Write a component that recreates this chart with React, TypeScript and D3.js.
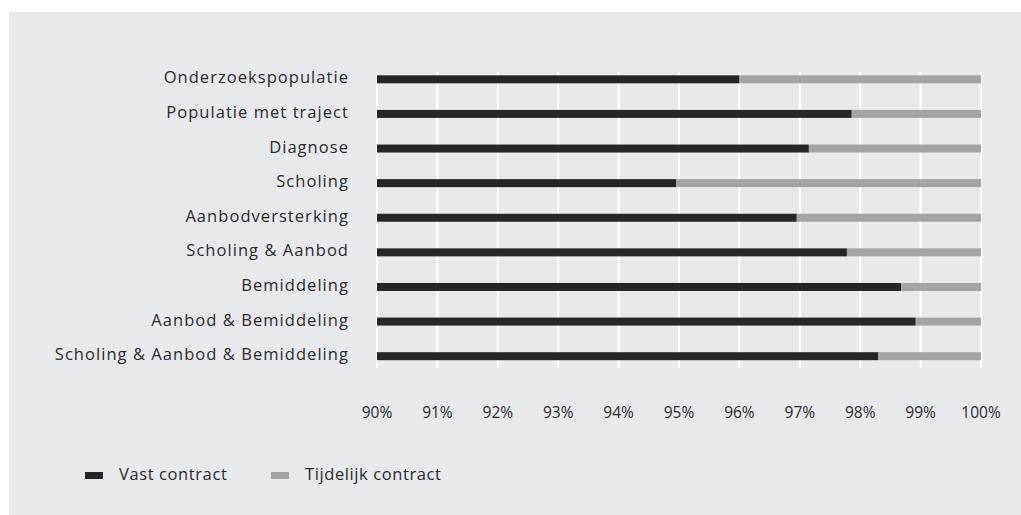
import React from "react";
import * as d3 from "d3";

const categories: string[] = [
  "Onderzoekspopulatie",
  "Populatie met traject",
  "Diagnose",
  "Scholing",
  "Aanbodversterking",
  "Scholing & Aanbod",
  "Bemiddeling",
  "Aanbod & Bemiddeling",
  "Scholing & Aanbod & Bemiddeling",
];
const vastContract: number[] = [0.96, 0.9786, 0.9715, 0.9495, 0.9695, 0.9778, 0.9868, 0.9892, 0.983];
const tijdelijkContract: number[] = vastContract.map((v) => 1 - v);
const tickValues: number[] = [0.9, 0.91, 0.92, 0.93, 0.94, 0.95, 0.96, 0.97, 0.98, 0.99, 1.0];
const seriesNames: string[] = ["Vast contract", "Tijdelijk contract"];
const seriesColors: string[] = ["#262628", "#a3a4a7"];

const W = 1021;
const H = 515;
const FONT = "'Open Sans', 'Noto Sans', sans-serif";

export default function App() {
  const x = d3.scaleLinear().domain([0.9, 1.0]).range([377, 981]);
  const y = d3.scaleBand<string>().domain(categories).range([62, 373.5]).paddingInner(0.77).paddingOuter(0.385);
  const bh = 8;
  const fmt = d3.format(".0%");

  return (
    <svg
      width={W}
      height={H}
      style={{ position: "fixed", left: 0, top: 0, display: "block" }}
      fontFamily={FONT}
    >
      <rect x={0} y={0} width={W} height={H} fill="#ffffff" />
      <rect x={9} y={12} width={W - 9} height={H - 12} fill="#e8e9eb" />
      {tickValues.map((t) => (
        <line key={"g" + t} x1={x(t)} x2={x(t)} y1={72} y2={368} stroke="#ffffff" strokeWidth={2} />
      ))}
      {categories.map((c, i) => {
        const cy = (y(c) as number) + y.bandwidth() / 2;
        return (
          <g key={c}>
            <rect x={x(0.9)} y={cy - bh / 2} width={x(vastContract[i]) - x(0.9)} height={bh} fill={seriesColors[0]} />
            <rect
              x={x(vastContract[i])}
              y={cy - bh / 2}
              width={x(vastContract[i] + tijdelijkContract[i]) - x(vastContract[i])}
              height={bh}
              fill={seriesColors[1]}
            />
            <text x={349} y={cy + 4} textAnchor="end" fontSize={16.5} fill="#2b2b2d" letterSpacing={1.05}>
              {c}
            </text>
          </g>
        );
      })}
      {tickValues.map((t) => (
        <text key={"t" + t} x={x(t)} y={418} textAnchor="middle" fontSize={15.5} fill="#2b2b2d">
          {fmt(t)}
        </text>
      ))}
      {seriesNames.map((s, i) => {
        const lx = [85, 271][i];
        return (
          <g key={s}>
            <rect x={lx} y={472} width={18} height={7} fill={seriesColors[i]} />
            <text x={lx + 34} y={480} fontSize={16.5} fill="#2b2b2d" letterSpacing={0.6}>
              {s}
            </text>
          </g>
        );
      })}
    </svg>
  );
}
